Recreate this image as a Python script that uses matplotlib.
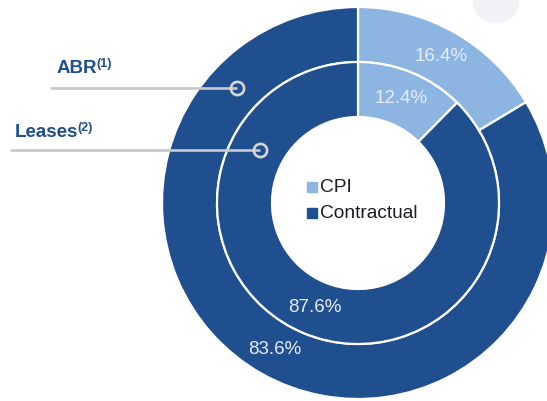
import matplotlib.pyplot as plt
from matplotlib.patches import Circle

plt.rcParams["font.family"] = ["Liberation Sans", "DejaVu Sans"]

# data
categories = ["CPI", "Contractual"]
abr_values = [16.4, 83.6]      # outer ring
lease_values = [12.4, 87.6]    # inner ring
ring_labels = ["ABR", "Leases"]
ring_notes = ["(1)", "(2)"]

dark_blue = "#1f4f8e"
light_blue = "#8db5e2"
colors = [light_blue, dark_blue]
label_color = "#e6edf6"

W, H = 547, 401
fig = plt.figure(figsize=(W / 100, H / 100), dpi=100)
ax = fig.add_axes([0, 0, 1, 1])

cx, cy = 358, H - 203
r_out, r_mid, r_in = 196, 141, 86

# faint decoration circle at top right
ax.add_patch(Circle((496, H), 23, color="#f0f2f6", zorder=0))

wedge_kw = dict(edgecolor="white", linewidth=1.6)
_, _, outer_txt = ax.pie(abr_values, colors=colors, radius=r_out, center=(cx, cy),
                         startangle=90, counterclock=False, autopct="%.1f%%",
                         pctdistance=0.857, frame=True,
                         wedgeprops=dict(width=r_out - r_mid, **wedge_kw))
_, _, inner_txt = ax.pie(lease_values, colors=colors, radius=r_mid, center=(cx, cy),
                         startangle=90, counterclock=False, autopct="%.1f%%",
                         pctdistance=0.80, frame=True,
                         wedgeprops=dict(width=r_mid - r_in, **wedge_kw))
for t in outer_txt + inner_txt:
    t.set_color(label_color)
    t.set_fontsize(13.5)

ax.set_xlim(0, W)
ax.set_ylim(0, H)
ax.set_aspect("equal")
ax.axis("off")

# legend in the centre
for i, (name, col) in enumerate(zip(categories, colors)):
    y = H - (187 + 26 * i)
    ax.plot(312, y, marker="s", markersize=7, color=col, linestyle="none")
    ax.text(320, y, name, fontsize=13.8, color="#1c1c28", va="center", ha="left")

# ring callouts
callouts = [
    # text x, text baseline y, line start x, line end x, line y
    (57, 73, 50, 237, 88),
    (15, 137, 10, 260, 150),
]
for (tx, ty, lx0, lx1, ly), name, note in zip(callouts, ring_labels, ring_notes):
    t = ax.text(tx, H - ty, name, fontsize=13.5, fontweight="bold", color=dark_blue,
                va="baseline", ha="left")
    fig.canvas.draw()
    bb = t.get_window_extent()
    ax.text(bb.x1 - 1, H - ty + 6, note, fontsize=9, fontweight="bold",
            color=dark_blue, va="baseline", ha="left")
    ax.plot([lx0, lx1], [H - ly, H - ly], color="#c8c8c8", linewidth=1.9,
            solid_capstyle="butt", zorder=3)
    ax.plot(lx1, H - ly, marker="o", markersize=9.5, markerfacecolor="none",
            markeredgecolor="#d6d6d6", markeredgewidth=1.9, zorder=4)

fig.savefig("out.png", dpi=100)
